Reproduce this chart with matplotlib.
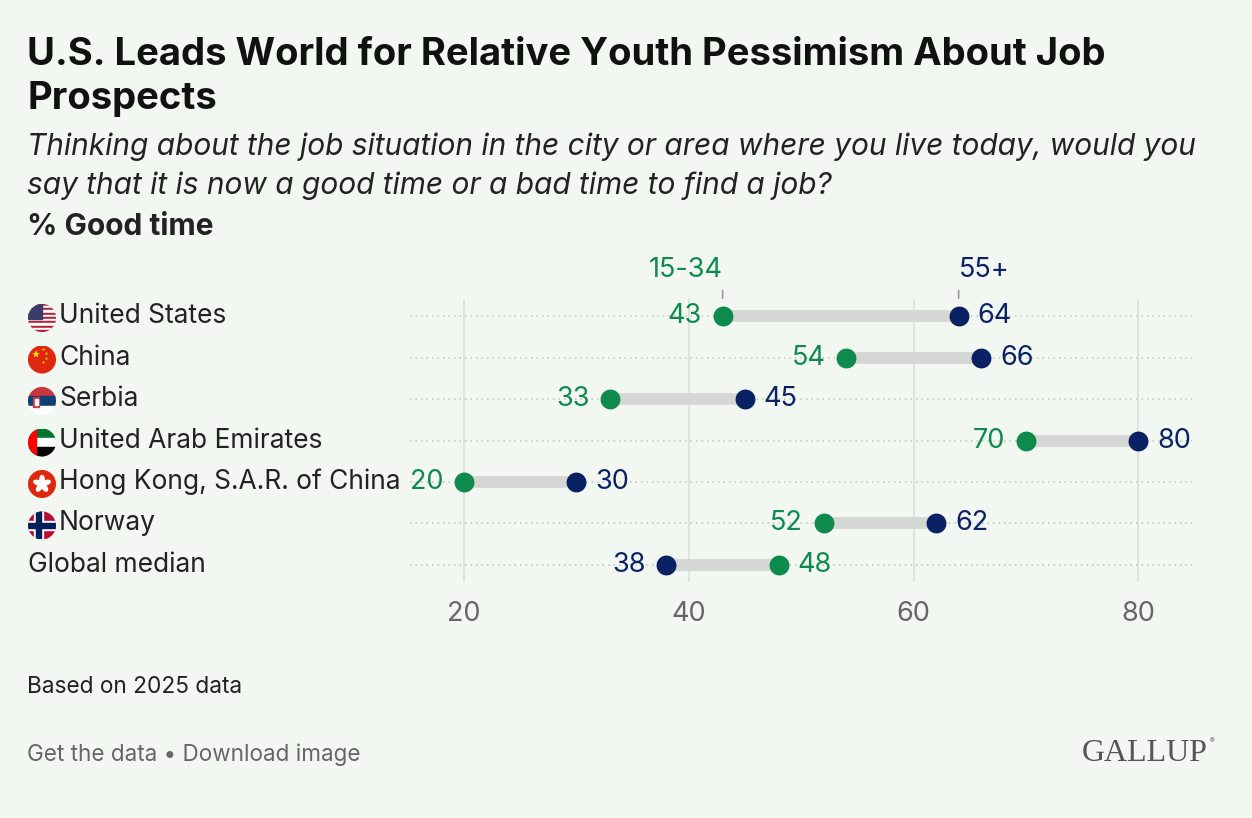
import numpy as np
import matplotlib
matplotlib.use("Agg")
import matplotlib.pyplot as plt
from matplotlib import font_manager as fm
from matplotlib.patches import Circle, Rectangle, Ellipse

countries = ["United States", "China", "Serbia", "United Arab Emirates",
             "Hong Kong, S.A.R. of China", "Norway", "Global median"]
flags = ["us", "cn", "rs", "ae", "hk", "no", None]
young = [43, 54, 33, 70, 20, 52, 48]   # 15-34
old = [64, 66, 45, 80, 30, 62, 38]     # 55+
xticks = [20, 40, 60, 80]

W, H = 1252, 818
BG = "#F2F7F1"
GREEN = "#0E8A4C"
NAVY = "#0A2264"
TXT = "#222222"
GREY = "#666666"

plt.rcParams['font.family'] = ['Inter', 'DejaVu Sans']


def italic_family():
    for fam in ['Inter', 'Roboto', 'Open Sans', 'Lato', 'Noto Sans']:
        try:
            p = fm.findfont(fm.FontProperties(family=fam, style='italic'), fallback_to_default=False)
            if 'italic' in p.lower():
                return fam
        except Exception:
            pass
    return 'DejaVu Sans'


ITAL = italic_family()


def fx(px):
    return px / W


def fy(py):
    return 1 - py / H


fig = plt.figure(figsize=(W / 100, H / 100), dpi=100, facecolor=BG)

# titles
fig.text(fx(27), fy(65), "U.S. Leads World for Relative Youth Pessimism About Job",
         fontsize=27.5, fontweight='bold', color="#111111", va='baseline')
fig.text(fx(27), fy(109), "Prospects", fontsize=27.5, fontweight='bold', color="#111111", va='baseline')
fig.text(fx(27), fy(155), "Thinking about the job situation in the city or area where you live today, would you",
         fontsize=21.5, style='italic', family=ITAL, color=TXT, va='baseline')
fig.text(fx(27), fy(194), "say that it is now a good time or a bad time to find a job?",
         fontsize=21.5, style='italic', family=ITAL, color=TXT, va='baseline')
fig.text(fx(27), fy(235), "% Good time", fontsize=21.5, fontweight='bold', color=TXT, va='baseline')

# main axes
ax = fig.add_axes([fx(410), fy(582), (1192 - 410) / W, (582 - 299) / H])
ax.set_facecolor('none')
n = len(countries)
ax.set_xlim(15.19, 84.76)
ax.set_ylim(n - 1 + 0.41, -0.41)
for s in ax.spines.values():
    s.set_visible(False)
ax.set_yticks([])
ax.set_xticks(xticks)
ax.tick_params(axis='x', length=0, pad=14, labelsize=19.5, labelcolor=GREY)
for t in xticks:
    ax.axvline(t, color="#DCE1DC", lw=1.3, zorder=0)

rows = np.arange(n)
for i in rows:
    ax.axhline(i, color="#BFC4BF", lw=1.1, ls=(0, (1, 2.6)), zorder=0.5)
    lo, hi = min(young[i], old[i]), max(young[i], old[i])
    ax.plot([lo, hi], [i, i], color="#D5D7D5", lw=8.5, solid_capstyle='butt', zorder=1)

ax.scatter(young, rows, s=205, color=GREEN, zorder=3, linewidths=0)
ax.scatter(old, rows, s=205, color=NAVY, zorder=3, linewidths=0)

for i in rows:
    for v, other, c in [(young[i], old[i], GREEN), (old[i], young[i], NAVY)]:
        if v <= other:
            ax.annotate(str(v), (v, i), xytext=(-15, 0), textcoords='offset points',
                        ha='right', va='center', fontsize=19.5, color=c)
        else:
            ax.annotate(str(v), (v, i), xytext=(13.5, 0), textcoords='offset points',
                        ha='left', va='center', fontsize=19.5, color=c)

# series labels above first row
for v, lab, c, ha in [(young[0], "15-34", GREEN, 'right'), (old[0], "55+", NAVY, 'left')]:
    ax.annotate("", (v, -0.36), xytext=(v, -0.68),
                arrowprops=dict(arrowstyle='-', color="#999999", lw=1.2), annotation_clip=False)
    ax.text(v, -0.8, lab, ha=ha, va='bottom', fontsize=19.5, color=c, clip_on=False)


# flags
def draw_flag(fa, kind):
    fa.set_xlim(-1, 1)
    fa.set_ylim(-1, 1)
    fa.axis('off')
    clip = Circle((0, 0), 1, transform=fa.transData)
    parts = []
    if kind == "us":
        for k in range(13):
            parts.append(Rectangle((-1, 1 - (k + 1) * 2 / 13), 2, 2 / 13,
                                   color="#B22234" if k % 2 == 0 else "white"))
        parts.append(Rectangle((-1, 1 - 14 / 13), 1.0, 14 / 13, color="#3C3B6E"))
    elif kind == "cn":
        parts.append(Rectangle((-1, -1), 2, 2, color="#DE2910"))
    elif kind == "rs":
        parts.append(Rectangle((-1, 1 / 3), 2, 2 / 3, color="#C6363C"))
        parts.append(Rectangle((-1, -1 / 3), 2, 2 / 3, color="#0C4076"))
        parts.append(Rectangle((-1, -1), 2, 2 / 3, color="white"))
        parts.append(Rectangle((-0.62, -0.45), 0.42, 0.75, color="#C6363C"))
        parts.append(Rectangle((-0.52, -0.3), 0.22, 0.45, color="white"))
    elif kind == "ae":
        parts.append(Rectangle((-1, 1 / 3), 2, 2 / 3, color="#00732F"))
        parts.append(Rectangle((-1, -1 / 3), 2, 2 / 3, color="white"))
        parts.append(Rectangle((-1, -1), 2, 2 / 3, color="black"))
        parts.append(Rectangle((-1, -1), 0.6, 2, color="#FF0000"))
    elif kind == "hk":
        parts.append(Rectangle((-1, -1), 2, 2, color="#DE2910"))
        for a in range(5):
            ang = np.pi / 2 + a * 2 * np.pi / 5
            parts.append(Ellipse((0.3 * np.cos(ang), 0.3 * np.sin(ang)), 0.62, 0.3,
                                 angle=np.degrees(ang), color="white"))
    elif kind == "no":
        parts.append(Rectangle((-1, -1), 2, 2, color="#BA0C2F"))
        parts.append(Rectangle((-1, -0.3), 2, 0.6, color="white"))
        parts.append(Rectangle((-0.55, -1), 0.6, 2, color="white"))
        parts.append(Rectangle((-1, -0.15), 2, 0.3, color="#00205B"))
        parts.append(Rectangle((-0.4, -1), 0.3, 2, color="#00205B"))
    for p in parts:
        fa.add_patch(p)
        p.set_clip_path(clip)
    if kind == "cn":
        fa.plot([-0.42], [0.38], marker='*', ms=6, color="#FFDE00", mew=0)
        for (sx, sy) in [(0.05, 0.72), (0.3, 0.45), (0.3, 0.08), (0.05, -0.15)]:
            fa.plot([sx], [sy], marker='*', ms=2.5, color="#FFDE00", mew=0)


fig.canvas.draw()
inv = fig.transFigure.inverted()
for i, (name, flag) in enumerate(zip(countries, flags)):
    _, yrow = inv.transform(ax.transData.transform((20, i)))
    ycent = yrow - 2 / H
    if flag:
        fa = fig.add_axes([fx(28), ycent - 14 / H, 28 / W, 28 / H])
        draw_flag(fa, flag)
        fig.text(fx(59), yrow, name, fontsize=19, color=TXT, va='center')
    else:
        fig.text(fx(28), yrow, name, fontsize=19, color=TXT, va='center')

# footer
fig.text(fx(27), fy(693), "Based on 2025 data", fontsize=16.3, color=TXT, va='baseline')
fig.text(fx(27), fy(761), "Get the data \u2022 Download image", fontsize=16.2, color=GREY, va='baseline')
fig.text(fx(1208), fy(761), "GALLUP", family=['Liberation Serif', 'DejaVu Serif'], fontsize=23,
         color="#555555", ha='right', va='baseline')
fig.text(fx(1210), fy(743), "\u00ae", fontsize=5, color="#555555", ha='left', va='baseline')

fig.savefig("out.png", dpi=100, facecolor=BG)
